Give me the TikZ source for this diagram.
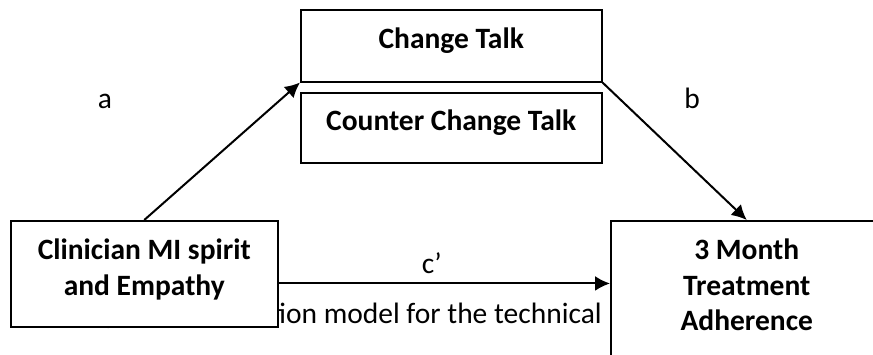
\documentclass[tikz,border=0pt]{standalone}
\usepackage{fontspec}
\setmainfont{Carlito}
\usetikzlibrary{arrows.meta}

\begin{document}
\begin{tikzpicture}[x=1pt,y=-1pt,
        box/.style={draw,line width=1.5pt,fill=white,inner sep=0pt,anchor=north west,align=center,
            font=\bfseries\fontsize{29.5}{35.4}\selectfont},
        lab/.style={anchor=base,inner sep=0pt,font=\fontsize{29.5}{35}\selectfont},
        tip/.style={-{Latex[length=15pt,width=15pt]},line width=2pt}]
        \useasboundingbox (0,0) rectangle (873,354);
        \clip (0,0) rectangle (873,354);
        % caption behind the left box
        \node[lab,anchor=base east](cap)at(602,323.3){Figure 1. Mediation model for the technical};
        \node[box,minimum width=301pt,minimum height=72pt,text height=38.7pt,text depth=33.3pt](ct)at(300,9){Change Talk};
        \node[box,minimum width=301pt,minimum height=70pt,text height=38pt,text depth=32pt](cct)at(300,92){Counter Change Talk};
        \node[box,minimum width=267pt,minimum height=106pt,text height=74.3pt,text depth=31.7pt](mi)at(10,220){Clinician MI spirit\\and Empathy};
        \node[box,minimum width=272pt,minimum height=150pt,text height=110pt,text depth=40pt](adh)at(610,220){3 Month\\Treatment\\Adherence};
        \node[lab](la)at(105,108){a};
        \node[lab](lb)at(692,108){b};
        \node[lab](lc)at(431.7,273.3){c’};
        \draw[tip](mi.north)--(ct.south west);
        \draw[tip](ct.south east)--(adh.north);
        \draw[tip]([yshift=-9.7pt]mi.east)--([yshift=-9.7pt]mi.east -| adh.west);
    \end{tikzpicture}
\end{document}
